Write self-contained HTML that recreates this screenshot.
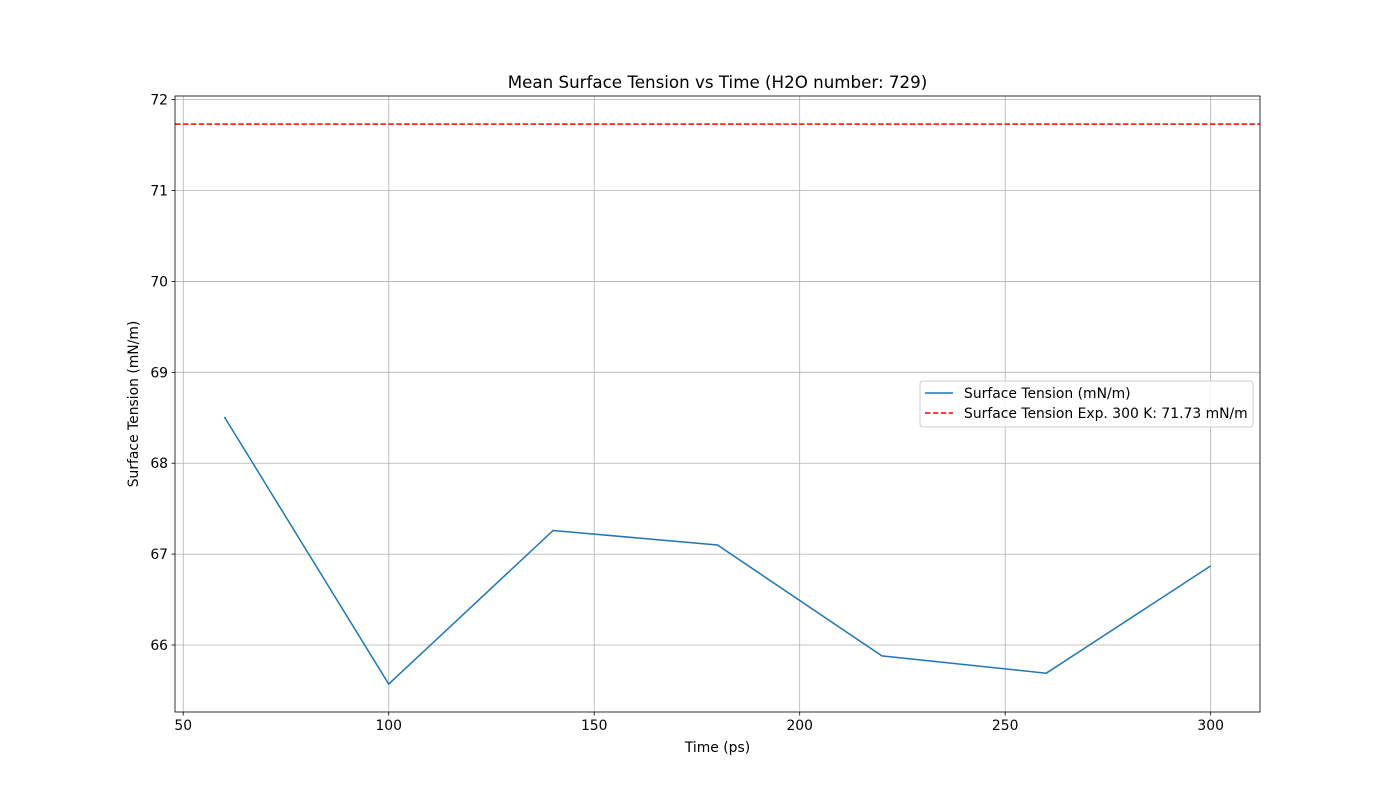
<!DOCTYPE html>
<html><head><meta charset="utf-8"><style>
body{margin:0;background:#fff;}
svg text{font-family:"DejaVu Sans","Liberation Sans",sans-serif;}
</style></head><body>
<svg id="chart" width="1400" height="800" xmlns="http://www.w3.org/2000/svg"></svg>
<script>
const xValues=[60,100,140,180,220,260,300];
const tensionValues=[68.51,65.57,67.26,67.10,65.88,65.69,66.87];
const expValue=71.73;
const xTicks=[50,100,150,200,250,300];
const yTicks=[66,67,68,69,70,71,72];
const L=175,R=1260,T=96,B=712,xMin=48,xMax=312,yMin=65.263,yMax=72.04;
const sx=v=>L+(v-xMin)/(xMax-xMin)*(R-L);
const sy=v=>B-(v-yMin)/(yMax-yMin)*(B-T);
const svg=document.getElementById('chart');
const NS='http://www.w3.org/2000/svg';
function mk(tag,attrs,parent){const e=document.createElementNS(NS,tag);for(const k in attrs)e.setAttribute(k,attrs[k]);(parent||svg).appendChild(e);return e;}
const grid=mk('g',{});


xTicks.forEach(t=>{const x=sx(t);
 const l=mk('line',{x1:x,x2:x,y1:T,y2:B,stroke:'#b0b0b0','stroke-width':0.8},grid);
 
 mk('line',{x1:x,x2:x,y1:B,y2:B+3.5,stroke:'#000','stroke-width':0.8});
 const tx=mk('text',{x:x,y:B+18,'text-anchor':'middle','font-size':13.9});tx.textContent=t;
 
});
yTicks.forEach(t=>{const y=sy(t);
 const l=mk('line',{x1:L,x2:R,y1:y,y2:y,stroke:'#b0b0b0','stroke-width':0.8},grid);
 
 mk('line',{x1:L-3.5,x2:L,y1:y,y2:y,stroke:'#000','stroke-width':0.8});
 const tx=mk('text',{x:L-7,y:y+5,'text-anchor':'end','font-size':13.9});tx.textContent=t;
 
});
const ref=mk('line',{x1:L,x2:R,y1:sy(expValue),y2:sy(expValue),stroke:'#ff0000','stroke-width':1.5,'stroke-dasharray':'5.5,2.4'});


const pl=mk('polyline',{points:xValues.map((x,i)=>sx(x)+','+sy(tensionValues[i])).join(' '),fill:'none',stroke:'#1f77b4','stroke-width':1.5});


const fr=mk('rect',{x:L,y:T,width:R-L,height:B-T,fill:'none',stroke:'#000','stroke-width':0.8});


const title=mk('text',{x:(L+R)/2,y:88,'text-anchor':'middle','font-size':16.7});title.textContent='Mean Surface Tension vs Time (H2O number: 729)';

const xt=mk('text',{x:(L+R)/2,y:752,'text-anchor':'middle','font-size':13.9});xt.textContent='Time (ps)';

const yt=mk('text',{x:0,y:0,'text-anchor':'middle','font-size':13.9,transform:'translate(138,404) rotate(-90)'});yt.textContent='Surface Tension (mN/m)';

const lg=mk('g',{});

mk('rect',{x:920,y:381,width:333,height:46,rx:3,fill:'#fff','fill-opacity':0.8,stroke:'#ccc'},lg);
mk('line',{x1:925,x2:953,y1:393,y2:393,stroke:'#1f77b4','stroke-width':1.5},lg);
mk('line',{x1:925,x2:953,y1:413,y2:413,stroke:'#ff0000','stroke-width':1.5,'stroke-dasharray':'5.5,2.4'},lg);
const e1=mk('text',{x:964,y:398,'font-size':13.9},lg);e1.textContent='Surface Tension (mN/m)';

const e2=mk('text',{x:964,y:418,'font-size':13.9},lg);e2.textContent='Surface Tension Exp. 300 K: 71.73 mN/m';

</script>
</body></html>
